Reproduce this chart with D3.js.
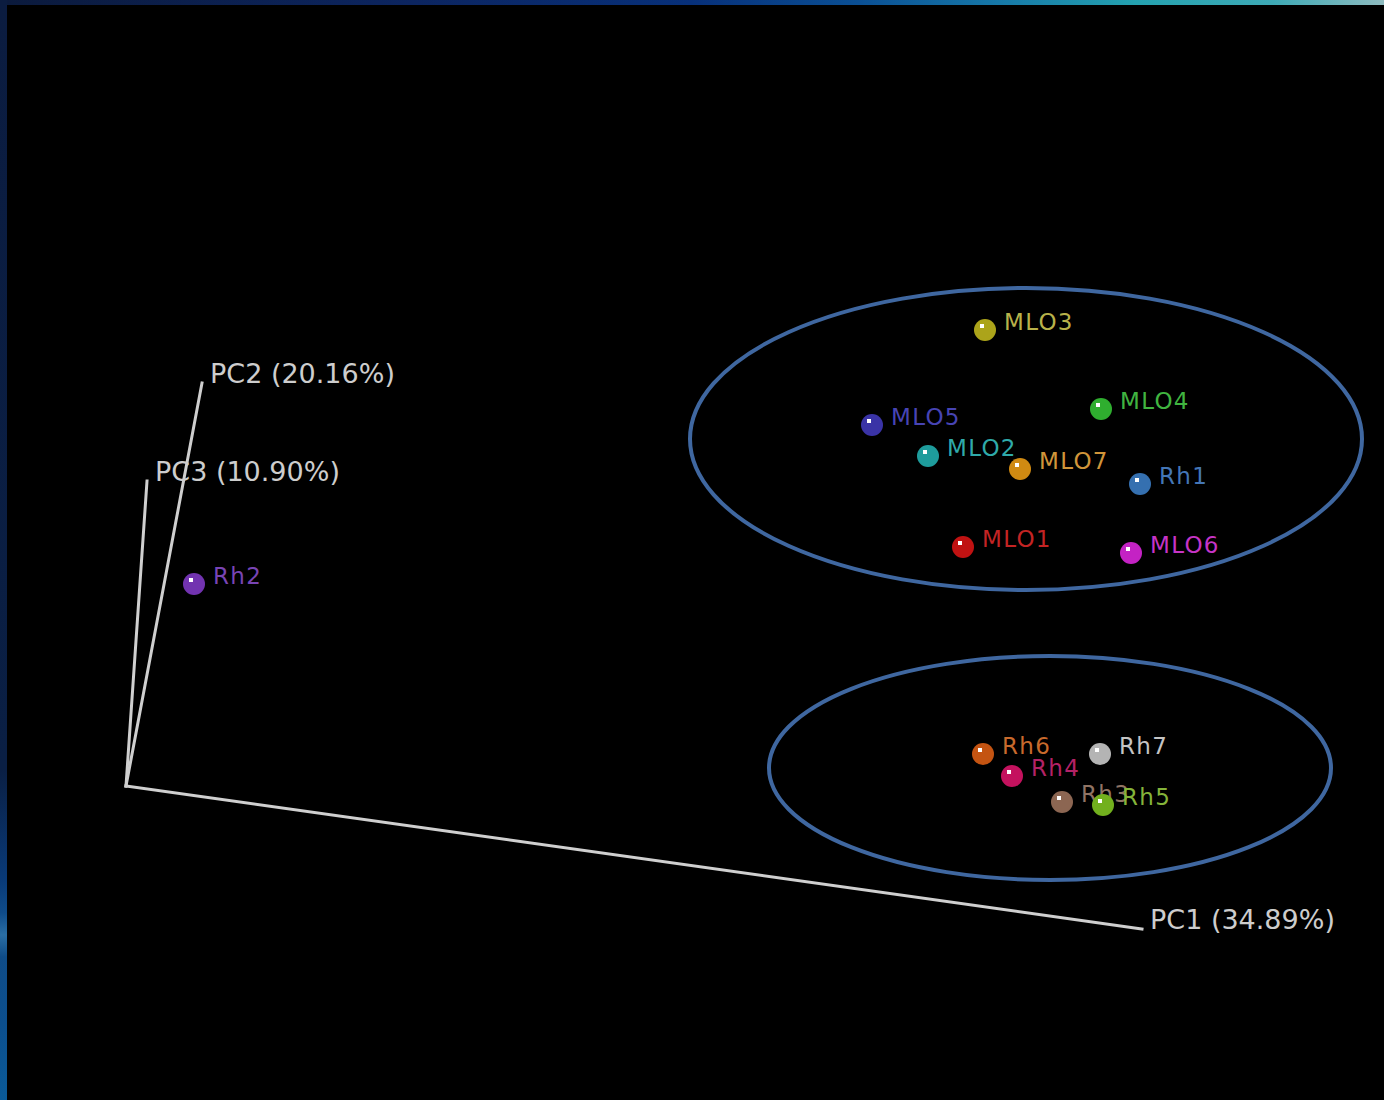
<!DOCTYPE html>
<html>
<head>
<meta charset="utf-8">
<script src="https://cdn.jsdelivr.net/npm/d3@7"></script>
<style>
  html, body { margin: 0; padding: 0; background: #000; }
  svg { display: block; }
</style>
</head>
<body>
<svg id="chart" width="1384" height="1100"></svg>
<script>
// Samples projected onto the screen plane of the 3D PCoA view (view units)
const samples = ["MLO3", "MLO5", "MLO2", "MLO7", "MLO4", "Rh1", "MLO1", "MLO6",
                 "Rh2", "Rh6", "Rh4", "Rh7", "Rh3", "Rh5"];
const viewX = [8.59, 7.46, 8.02, 8.94, 9.75, 10.14, 8.37, 10.05,
               0.68, 8.57, 8.86, 9.74, 9.36, 9.77];
const viewY = [4.56, 3.61, 3.30, 3.17, 3.77, 3.02, 2.39, 2.33,
               2.02, 0.32, 0.10, 0.32, -0.16, -0.19];
const dotColors = ["#aca41a", "#3a33a6", "#1e9c9c", "#d08a12", "#2fae2f", "#3570b0", "#c01212", "#c422c4",
                   "#7233b0", "#c45412", "#c4125e", "#b4b4b4", "#8c6652", "#72b01e"];
const labelColors = ["#b8b24a", "#4744b4", "#2faaaa", "#d0953a", "#40b440", "#4476b6", "#c42424", "#c634c6",
                     "#7844b4", "#c86a2c", "#b42266", "#c4c4c4", "#907464", "#84b43a"];

// Principal coordinate axes: label and projected end point (origin at 0,0)
const axisLabels = ["PC1 (34.89%)", "PC2 (20.16%)", "PC3 (10.90%)"];
const axisEndX = [10.16, 0.76, 0.21];
const axisEndY = [-1.43, 4.03, 3.05];

// Group outlines: centre and radii in view units
const groupCx = [9.00, 9.24];
const groupCy = [3.47, 0.18];
const groupRx = [3.36, 2.81];
const groupRy = [1.51, 1.12];

const W = 1384, H = 1100;
const svg = d3.select("#chart");

const x = d3.scaleLinear().domain([0, 10]).range([126, 1126]);
const y = d3.scaleLinear().domain([0, 10]).range([786, -214]);
const unit = x(1) - x(0);

// Frame: gradient border around the black plotting area
const defs = svg.append("defs");
const gTop = defs.append("linearGradient").attr("id", "topGrad")
  .attr("x1", "0").attr("x2", "1").attr("y1", "0").attr("y2", "0");
[[0, "#0b1a3c"], [0.3, "#0c2560"], [0.5, "#07307a"], [0.62, "#0a4f94"], [0.72, "#1678a8"],
 [0.82, "#24a2b0"], [0.92, "#3eaab6"], [1, "#8fbcc0"]]
  .forEach(([o, c]) => gTop.append("stop").attr("offset", o).attr("stop-color", c));
const gLeft = defs.append("linearGradient").attr("id", "leftGrad")
  .attr("x1", "0").attr("x2", "0").attr("y1", "0").attr("y2", "1");
[[0, "#0b1c40"], [0.7, "#0a1f44"], [0.8, "#093a78"], [0.83, "#0f4c8a"], [0.85, "#2a6ea4"],
 [0.87, "#0f4c88"], [0.93, "#0c4f8e"], [1, "#0a5a98"]]
  .forEach(([o, c]) => gLeft.append("stop").attr("offset", o).attr("stop-color", c));

svg.append("rect").attr("x", 0).attr("y", 0).attr("width", W).attr("height", 5).attr("fill", "url(#topGrad)");
svg.append("rect").attr("x", 0).attr("y", 0).attr("width", 7).attr("height", H).attr("fill", "url(#leftGrad)");
svg.append("rect").attr("x", 7).attr("y", 5).attr("width", W - 7).attr("height", H - 5).attr("fill", "#000");

// Axes
const axes = svg.append("g").attr("class", "axes");
axisLabels.forEach((lab, i) => {
  axes.append("line")
    .attr("x1", x(0)).attr("y1", y(0))
    .attr("x2", x(axisEndX[i])).attr("y2", y(axisEndY[i]))
    .attr("stroke", "#cfcfcf").attr("stroke-width", 3).attr("stroke-linecap", "square");
  axes.append("text")
    .attr("x", x(axisEndX[i]) + 8).attr("y", y(axisEndY[i]))
    .attr("font-family", "DejaVu Sans").attr("font-size", 27)
    .attr("fill", "#cdcdcd").text(lab);
});

// Sample labels
const idx = d3.range(samples.length);
svg.append("g").attr("class", "labels").selectAll("text").data(idx).join("text")
  .attr("x", i => x(viewX[i]) + 19).attr("y", i => y(viewY[i]))
  .attr("font-family", "DejaVu Sans").attr("font-size", 23)
  .attr("letter-spacing", 1.3)
  .attr("fill", i => labelColors[i]).text(i => samples[i]);

// Sample spheres with a small highlight
const dots = svg.append("g").attr("class", "dots").selectAll("g").data(idx).join("g")
  .attr("transform", i => `translate(${x(viewX[i])},${y(viewY[i])})`);
dots.append("circle").attr("r", 11).attr("fill", i => dotColors[i]);
dots.append("rect").attr("x", -5).attr("y", -6).attr("width", 4).attr("height", 4).attr("fill", "#fff");

// Group outlines
svg.append("g").attr("class", "groups").selectAll("ellipse").data(groupCx).join("ellipse")
  .attr("cx", (d, i) => x(groupCx[i])).attr("cy", (d, i) => y(groupCy[i]))
  .attr("rx", (d, i) => groupRx[i] * unit).attr("ry", (d, i) => groupRy[i] * unit)
  .attr("fill", "none").attr("stroke", "#3f67a0").attr("stroke-width", 4);
</script>
</body>
</html>
